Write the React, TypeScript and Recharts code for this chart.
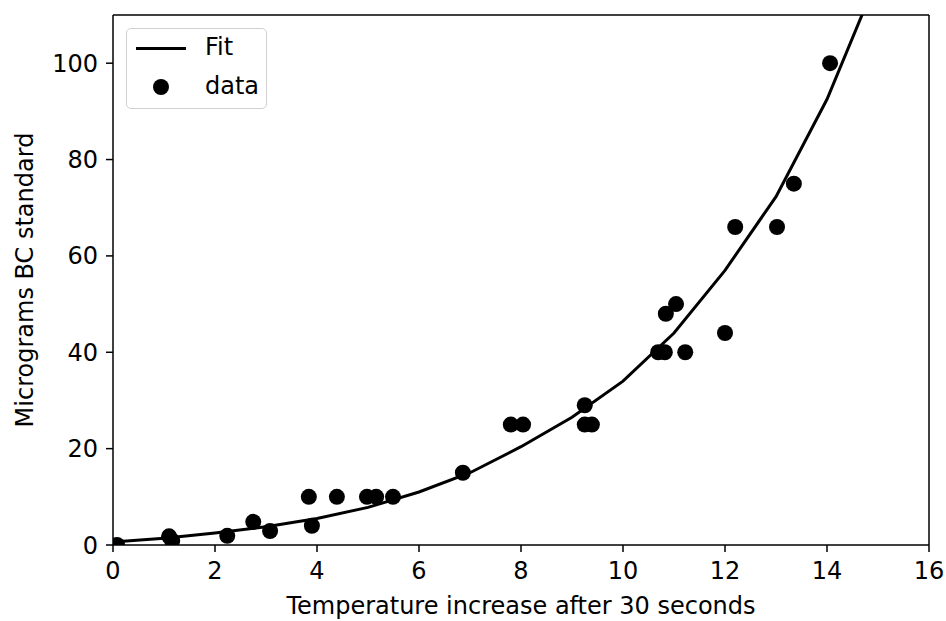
import { ComposedChart, Line, Scatter, XAxis, YAxis, ReferenceLine } from 'recharts'

const tempIncrease = [0.08, 1.1, 1.16, 2.24, 2.75, 3.08, 3.84, 3.9, 4.39, 4.98, 5.16, 5.49, 6.86, 7.8, 8.04, 9.25, 9.25, 9.39, 10.69, 10.82, 10.84, 11.04, 11.22, 12.0, 12.2, 13.02, 13.35, 14.06]
const micrograms = [0, 1.8, 0.9, 1.9, 4.8, 2.9, 10, 4, 10, 10, 10, 10, 15, 25, 25, 29, 25, 25, 40, 40, 48, 50, 40, 44, 66, 66, 75, 100]

const fitX = [0, 1, 2, 3, 4, 5, 6, 7, 8, 9, 10, 11, 12, 13, 14, 15]
const fitY = [0.6, 1.4, 2.5, 3.8, 5.5, 7.8, 11, 15, 20.4, 26.5, 34, 44, 57, 72.3, 92.5, 118]

const xTicks = [0, 2, 4, 6, 8, 10, 12, 14, 16]
const yTicks = [0, 20, 40, 60, 80, 100]

const points = tempIncrease.map((x, i) => ({ x, y: micrograms[i] }))
const fit = fitX.map((x, i) => ({ x, y: fitY[i] }))

const font = 'DejaVu Sans, sans-serif'
const fs = 24

function FitLegend() {
  return (
    <div
      style={{
        position: 'absolute',
        left: 126,
        top: 28,
        width: 139,
        height: 79,
        border: '1.5px solid #d0d0d0',
        borderRadius: 5,
        background: '#fff',
        fontFamily: font,
        fontSize: fs,
        lineHeight: '28px',
        color: '#000',
      }}
    >
      <div style={{ position: 'absolute', left: 9, top: 18, width: 50, height: 3, background: '#000' }} />
      <div style={{ position: 'absolute', left: 78, top: 4 }}>Fit</div>
      <div style={{ position: 'absolute', left: 26, top: 50, width: 16, height: 16, borderRadius: 8, background: '#000' }} />
      <div style={{ position: 'absolute', left: 78, top: 43 }}>data</div>
    </div>
  )
}

export default function App() {
  return (
    <div style={{ position: 'absolute', left: 0, top: 0, width: 946, height: 621, background: '#fff' }}>
      <ComposedChart width={946} height={621} margin={{ top: 15, right: 17, bottom: 6, left: 43 }}>
        <XAxis
          type="number"
          dataKey="x"
          domain={[0, 16]}
          ticks={xTicks}
          interval={0}
          allowDataOverflow
          height={70}
          stroke="#000"
          strokeWidth={1.5}
          tickSize={7}
          tick={{ fill: '#000', fontSize: fs, fontFamily: font }}
          tickMargin={10}
          label={{ value: 'Temperature increase after 30 seconds', position: 'insideBottom', offset: 1, fill: '#000', fontSize: fs, fontFamily: font }}
        />
        <YAxis
          type="number"
          dataKey="y"
          domain={[0, 110]}
          ticks={yTicks}
          interval={0}
          allowDataOverflow
          width={70}
          stroke="#000"
          strokeWidth={1.5}
          tickSize={7}
          tick={{ fill: '#000', fontSize: fs, fontFamily: font }}
          tickMargin={8}
          label={{ value: 'Micrograms BC standard', angle: -90, position: 'insideLeft', offset: -19, fill: '#000', fontSize: fs, fontFamily: font, style: { textAnchor: 'middle' } }}
        />
        <ReferenceLine y={110} stroke="#000" strokeWidth={1.5} />
        <ReferenceLine x={16} stroke="#000" strokeWidth={1.5} />
        <Line
          data={fit}
          dataKey="y"
          type="linear"
          stroke="#000"
          strokeWidth={3}
          dot={false}
          activeDot={false}
          isAnimationActive={false}
          name="Fit"
        />
        <Scatter
          data={points}
          dataKey="y"
          fill="#000"
          isAnimationActive={false}
          name="data"
          shape={(p: any) => <circle cx={p.cx} cy={p.cy} r={8} fill="#000" />}
        />
      </ComposedChart>
      <FitLegend />
    </div>
  )
}
